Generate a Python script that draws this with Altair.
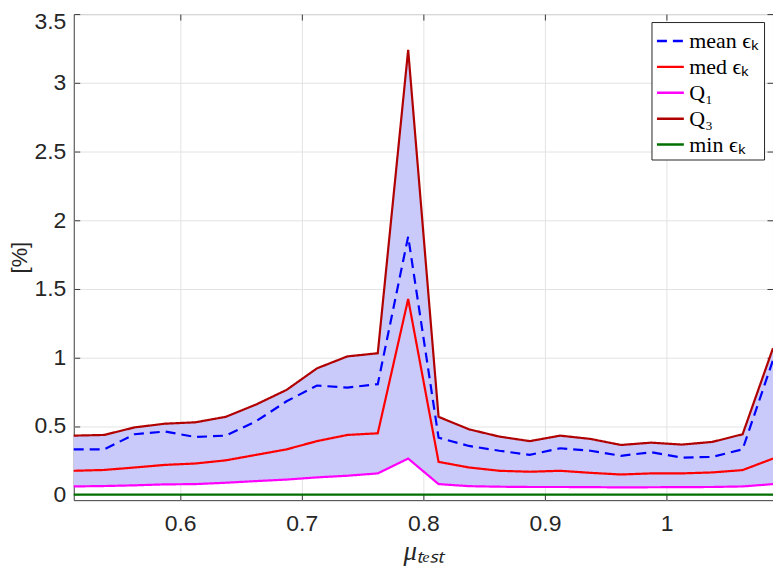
import altair as alt
import pandas as pd

# ---- data ----
mu = [0.5125, 0.5375, 0.5625, 0.5875, 0.6125, 0.6375, 0.6625, 0.6875,
      0.7125, 0.7375, 0.7625, 0.7875, 0.8125, 0.8375, 0.8625, 0.8875,
      0.9125, 0.9375, 0.9625, 0.9875, 1.0125, 1.0375, 1.0625, 1.0875]
mean_eps = [0.33, 0.33, 0.44, 0.46, 0.42, 0.43, 0.535, 0.68, 0.795, 0.78, 0.805, 1.88,
            0.415, 0.355, 0.32, 0.29, 0.338, 0.32, 0.283, 0.309, 0.27, 0.275, 0.33, 0.98]
med_eps = [0.174, 0.18, 0.198, 0.217, 0.227, 0.25, 0.29, 0.33, 0.39, 0.435, 0.447, 1.425,
           0.239, 0.198, 0.174, 0.167, 0.174, 0.159, 0.147, 0.155, 0.155, 0.162, 0.179, 0.263]
q1 = [0.06, 0.063, 0.068, 0.075, 0.077, 0.087, 0.099, 0.11, 0.126, 0.138, 0.155, 0.263,
      0.077, 0.062, 0.058, 0.056, 0.056, 0.055, 0.053, 0.054, 0.055, 0.056, 0.06, 0.077]
q3 = [0.43, 0.435, 0.49, 0.517, 0.527, 0.567, 0.657, 0.763, 0.92, 1.007, 1.03, 3.24,
      0.567, 0.476, 0.423, 0.39, 0.43, 0.406, 0.362, 0.379, 0.365, 0.384, 0.44, 1.067]
min_eps = [0.0, 0.0, 0.0, 0.0, 0.0, 0.0, 0.0, 0.0, 0.0, 0.0, 0.0, 0.0,
           0.0, 0.0, 0.0, 0.0, 0.0, 0.0, 0.0, 0.0, 0.0, 0.0, 0.0, 0.0]

series_names = ["mean ϵₖ", "med ϵₖ", "Q₁", "Q₃", "min ϵₖ"]
series_values = [mean_eps, med_eps, q1, q3, min_eps]
series_colors = ["#0000ff", "#ff0000", "#ff00ff", "#b00000", "#007000"]
series_dash = [[10, 6], [1, 0], [1, 0], [1, 0], [1, 0]]
draw_order = [3, 4, 2, 1, 0]  # Q3, min, Q1, med, mean

x_ticks = [0.6, 0.7, 0.8, 0.9, 1.0]
y_ticks = [0, 0.5, 1, 1.5, 2, 2.5, 3, 3.5]

W, H = 702, 488

wide = pd.DataFrame({"mu": mu, "q1": q1, "q3": q3})
rows = []
for name, vals in zip(series_names, series_values):
    for m, v in zip(mu, vals):
        rows.append({"mu": m, "val": v, "series": name,
                     "order": draw_order.index(series_names.index(name))})
long = pd.DataFrame(rows)

xs = alt.Scale(domain=[0.5125, 1.0875], nice=False, zero=False)
ys = alt.Scale(domain=[-0.04, 3.5], nice=False, zero=False)

TXT = "#262626"
GRID = "#e3e3e3"
lab = dict(labelFont="Liberation Sans", labelFontSize=23, labelColor=TXT)

area = alt.Chart(wide).mark_area(color="#cacafa", opacity=1).encode(
    x=alt.X("mu:Q", scale=xs, axis=alt.Axis(
        values=x_ticks, format="~g", grid=True, gridColor=GRID, tickSize=0,
        domain=False, labelPadding=12, title="μₜₑₛₜ", titleFont="Liberation Serif",
        titleFontStyle="italic", titleFontWeight="normal", titleFontSize=27,
        titleColor=TXT, titlePadding=4, **lab)),
    y=alt.Y("q1:Q", scale=ys, axis=alt.Axis(
        values=y_ticks, format="~g", grid=True, gridColor=GRID, tickSize=0,
        domain=False, labelPadding=8, title="[%]", titleFont="Liberation Sans",
        titleFontWeight="normal", titleFontSize=22, titleColor=TXT,
        titlePadding=2,
        labelOffset={"condition": {"test": "datum.value >= 3.5", "value": 7}, "value": 0},
        **lab)),
    y2="q3:Q",
)

lines = alt.Chart(long).mark_line(strokeWidth=2.2).encode(
    x=alt.X("mu:Q", scale=xs, axis=None),
    y=alt.Y("val:Q", scale=ys, axis=None),
    color=alt.Color("series:N", scale=alt.Scale(domain=series_names, range=series_colors),
                    legend=alt.Legend(title=None)),
    strokeDash=alt.StrokeDash("series:N", scale=alt.Scale(domain=series_names, range=series_dash),
                              legend=alt.Legend(title=None)),
    detail="series:N",
    order="order:Q",
)

tick_common = dict(labels=False, domain=False, grid=False, title=None, tickSize=6,
                   tickColor="#3a3a3a")
ticksA = alt.Chart(wide).mark_point(opacity=0).encode(
    x=alt.X("mu:Q", scale=xs, axis=alt.Axis(orient="top", offset=-H, values=x_ticks, **tick_common)),
    y=alt.Y("q1:Q", scale=ys, axis=alt.Axis(orient="right", offset=-W, values=y_ticks, **tick_common)),
)
ticksB = alt.Chart(wide).mark_point(opacity=0).encode(
    x=alt.X("mu:Q", scale=xs, axis=alt.Axis(orient="bottom", offset=-H, values=x_ticks, **tick_common)),
    y=alt.Y("q3:Q", scale=ys, axis=alt.Axis(orient="left", offset=-W, values=y_ticks, **tick_common)),
)

chart = alt.layer(area, lines, ticksA, ticksB).resolve_scale(
    x="independent", y="independent"
).properties(
    width=W, height=H,
    autosize=alt.AutoSizeParams(type="none"),
    padding={"left": 66, "top": 5, "right": 0, "bottom": 69},
).configure_view(
    stroke="#3a3a3a", strokeWidth=1
).configure_legend(
    orient="none", legendX=580, legendY=8,
    fillColor="white", strokeColor=TXT, padding=4, cornerRadius=0,
    labelFont="Liberation Serif", labelFontSize=22, labelColor="black",
    symbolType="stroke", symbolSize=729, symbolStrokeWidth=2.5,
    rowPadding=0, labelOffset=4,
)

chart.save("out.html", embed_options={"renderer": "svg", "actions": False})
